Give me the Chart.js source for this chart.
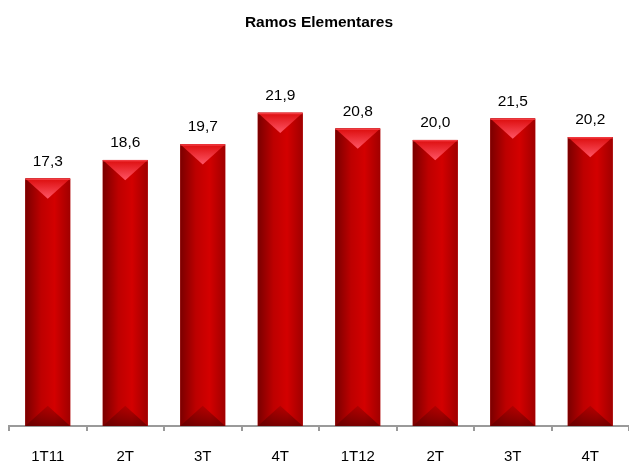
<!DOCTYPE html>
<html>
<head>
<meta charset="utf-8">
<script src="https://cdn.jsdelivr.net/npm/chart.js@4/dist/chart.umd.min.js"></script>
<style>
  html, body { margin: 0; padding: 0; background: #fff; }
  #wrap { width: 629px; height: 463px; }
</style>
</head>
<body>
<div id="wrap"><canvas id="chart"></canvas></div>
<script>
var categories = ['1T11', '2T', '3T', '4T', '1T12', '2T', '3T', '4T'];
var values = [17.3, 18.6, 19.7, 21.9, 20.8, 20.0, 21.5, 20.2];
var title_text = 'Ramos Elementares';

// draws the shaded body, the lit top triangle, the dark bottom pyramid and the value labels
var barDecor = {
    id: 'barDecor',
    afterDatasetsDraw: function(chart) {
        var ctx = chart.ctx;
        var meta = chart.getDatasetMeta(0);
        meta.data.forEach(function(bar, i) {
            var p = bar.getProps(['x', 'y', 'base', 'width'], true);
            var left = p.x - p.width / 2, right = p.x + p.width / 2;
            var top = p.y, bottom = p.base;
            var depth = p.width * 0.45;

            ctx.save();
            // body shading
            var g = ctx.createLinearGradient(left, 0, right, 0);
            g.addColorStop(0, '#7a0000');
            g.addColorStop(0.35, '#bd0000');
            g.addColorStop(0.65, '#d30000');
            g.addColorStop(1, '#a00000');
            ctx.fillStyle = g;
            ctx.fillRect(left, top, p.width, bottom - top);

            // top triangle
            var tg = ctx.createLinearGradient(0, top, 0, top + depth);
            tg.addColorStop(0, '#dc0c0c');
            tg.addColorStop(1, '#ff5565');
            ctx.fillStyle = tg;
            ctx.beginPath();
            ctx.moveTo(left, top);
            ctx.lineTo(right, top);
            ctx.lineTo(p.x, top + depth);
            ctx.closePath();
            ctx.fill();
            // thin light rim at the top
            ctx.fillStyle = 'rgba(255,90,100,0.6)';
            ctx.fillRect(left, top, p.width, 1.5);

            // bottom pyramid
            var bg = ctx.createLinearGradient(0, bottom - depth, 0, bottom);
            bg.addColorStop(0, 'rgba(120,0,0,0.3)');
            bg.addColorStop(1, 'rgba(100,0,0,0.8)');
            ctx.fillStyle = bg;
            ctx.beginPath();
            ctx.moveTo(left, bottom);
            ctx.lineTo(p.x, bottom - depth);
            ctx.lineTo(right, bottom);
            ctx.closePath();
            ctx.fill();

            // value label
            ctx.fillStyle = '#000';
            ctx.font = '15.5px "Liberation Sans", Arial, sans-serif';
            ctx.textAlign = 'center';
            ctx.textBaseline = 'middle';
            ctx.fillText(values[i].toFixed(1).replace('.', ','), p.x, top - 17);
            ctx.restore();
        });
    }
};

new Chart(document.getElementById('chart'), {
    type: 'bar',
    data: {
        labels: categories,
        datasets: [{
            data: values,
            backgroundColor: '#c00000',
            borderWidth: 0,
            categoryPercentage: 1,
            barPercentage: 0.58
        }]
    },
    options: {
        responsive: true,
        maintainAspectRatio: false,
        animation: false,
        layout: { padding: { left: 9, right: 0, top: 0, bottom: 0 } },
        plugins: {
            legend: { display: false },
            tooltip: { enabled: false },
            title: {
                display: true,
                text: title_text,
                color: '#000',
                font: { family: '"Liberation Sans", Arial, sans-serif', size: 15.5, weight: 'bold' },
                padding: { top: 13, bottom: 22.5 }
            }
        },
        scales: {
            x: {
                afterFit: function(scale) { scale.height = 37; },
                grid: {
                    offset: true,
                    drawOnChartArea: false,
                    drawTicks: true,
                    tickLength: 5,
                    color: '#9a9a9a',
                    lineWidth: 2
                },
                border: { display: true, color: '#9a9a9a', width: 2 },
                ticks: {
                    color: '#000',
                    padding: 17,
                    font: { family: '"Liberation Sans", Arial, sans-serif', size: 15 }
                }
            },
            y: {
                display: false,
                min: 0,
                max: 26
            }
        }
    },
    plugins: [barDecor]
});
</script>
</body>
</html>
